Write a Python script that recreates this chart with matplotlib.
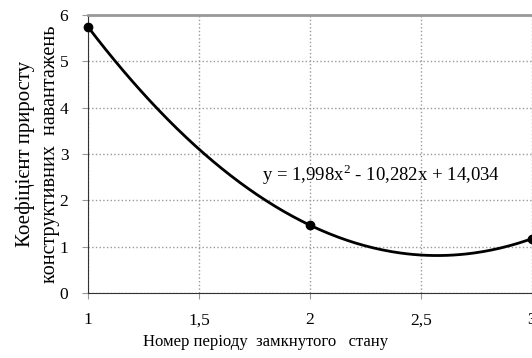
import matplotlib.pyplot as plt
import numpy as np

plt.rcParams['font.family'] = ['Liberation Serif', 'DejaVu Serif']
plt.rcParams['mathtext.fontset'] = 'custom'
plt.rcParams['mathtext.rm'] = 'Liberation Serif'

# measured points and the trend equation printed on the chart
periods = [1, 2, 3]
coef_values = [5.75, 1.46, 1.17]
trend_coefs = [1.998, -10.282, 14.034]
equation = "y = 1,998x$^{\\mathrm{2}}$ - 10,282x + 14,034"
x_ticks = [1, 1.5, 2, 2.5, 3]
x_tick_labels = ["1", "1,5", "2", "2,5", "3"]
y_ticks = [0, 1, 2, 3, 4, 5, 6]

fig = plt.figure(figsize=(5.32, 3.58), dpi=100)
ax = fig.add_axes([0.165, 0.182, 0.835, 0.776])

xs = np.linspace(1, 3, 200)
ax.plot(xs, np.polyval(trend_coefs, xs), color='black', lw=2)
ax.plot(periods, coef_values, 'o', color='black', ms=6, clip_on=False, zorder=5)

ax.set_xlim(1, 3)
ax.set_ylim(0, 6)
ax.set_xticks(x_ticks)
ax.set_xticklabels(x_tick_labels)
ax.set_yticks(y_ticks)
ax.tick_params(labelsize=12.5, length=4, color='#999999')
ax.tick_params(axis='x', pad=10)
ax.tick_params(axis='y', pad=10)

ax.grid(True, linestyle=':', color='#999999', lw=1)
ax.spines['top'].set_color('#999999')
ax.spines['top'].set_linewidth(2)
ax.spines['left'].set_color('#333333')
ax.spines['bottom'].set_color('#333333')
ax.spines['right'].set_visible(False)

ax.text(2.32, 2.55, equation, fontsize=13.5, ha='center', va='center')

fig.text(0.5, 0.022, "Номер періоду  замкнутого   стану", fontsize=12, ha='center', va='bottom')
fig.text(0.047, 0.57, "Коефіцієнт приросту", fontsize=15, rotation=90, ha='center', va='center')
fig.text(0.095, 0.57, "конструктивних  навантажень", fontsize=14.5, rotation=90, ha='center', va='center')

fig.savefig("out.png")
